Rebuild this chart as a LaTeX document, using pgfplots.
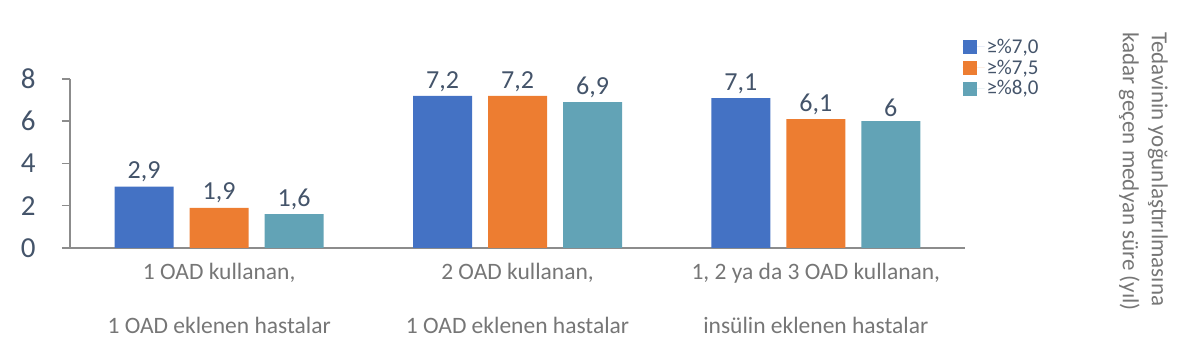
\documentclass[border=0pt]{standalone}
\usepackage{fontspec}
\setmainfont{Carlito}
\usepackage{pgfplots}
\pgfplotsset{compat=1.18}
\definecolor{cblue}{HTML}{4472C4}
\definecolor{corange}{HTML}{ED7D31}
\definecolor{cteal}{HTML}{62A3B6}
\definecolor{slate}{HTML}{44546A}
\definecolor{labgray}{HTML}{767676}
\definecolor{axgray}{HTML}{8C8C8C}
\begin{document}
\begin{tikzpicture}
\path[use as bounding box] (0,0) rectangle (1192pt,358pt);
\begin{axis}[
  at={(70pt,110pt)}, anchor=south west,
  scale only axis, width=895pt, height=169pt,
  ybar=16pt, bar width=59pt,
  xmin=-0.5, xmax=2.5, ymin=0, ymax=8,
  xtick={0,1,2},
  xticklabels={{1 OAD kullanan,\\1 OAD eklenen hastalar},{2 OAD kullanan,\\1 OAD eklenen hastalar},{1, 2 ya da 3 OAD kullanan,\\insülin eklenen hastalar}},
  ytick={0,2,4,6,8},
  axis x line*=bottom, axis y line*=left,
  axis line style={draw=axgray, line width=1.5pt},
  xtick style={draw=none},
  ytick style={draw=axgray, line width=1.5pt},
  major tick length=8pt, tick align=outside,
  /pgf/number format/use comma,
  /pgf/number format/assume math mode=true,
  yticklabel style={font=\fontsize{29}{29}\selectfont, text=slate, xshift=-23pt},
  xticklabel style={font=\fontsize{23.5}{54}\selectfont, text=labgray, align=center, yshift=-4pt},
  nodes near coords,
  nodes near coords style={font=\fontsize{26}{26}\selectfont, text=slate, yshift=1pt},
  legend style={at={(0.997,1.25)}, anchor=north west, draw=none, fill=none,
     font=\fontsize{21}{21}\selectfont, text=slate, row sep=1pt, inner sep=0pt},
  legend cell align=left,
  legend image code/.code={\path[#1, draw=none] (0pt,-7pt) rectangle (14pt,7pt);\path (0pt,0pt) -- (22pt,0pt);},
]
\addplot[fill=cblue, draw=none] coordinates {(0,2.9) (1,7.2) (2,7.1)};
\addplot[fill=corange, draw=none] coordinates {(0,1.9) (1,7.2) (2,6.1)};
\addplot[fill=cteal, draw=none] coordinates {(0,1.6) (1,6.9) (2,6)};
\legend{{≥\%7,0}, {≥\%7,5}, {≥\%8,0}}
\end{axis}
\node[rotate=-90, anchor=north west, align=left, font=\fontsize{23}{29}\selectfont, text=labgray, inner sep=0pt] at (1168pt,326pt) {Tedavinin yoğunlaştırılmasına\\kadar geçen medyan süre (yıl)};
\end{tikzpicture}
\end{document}
